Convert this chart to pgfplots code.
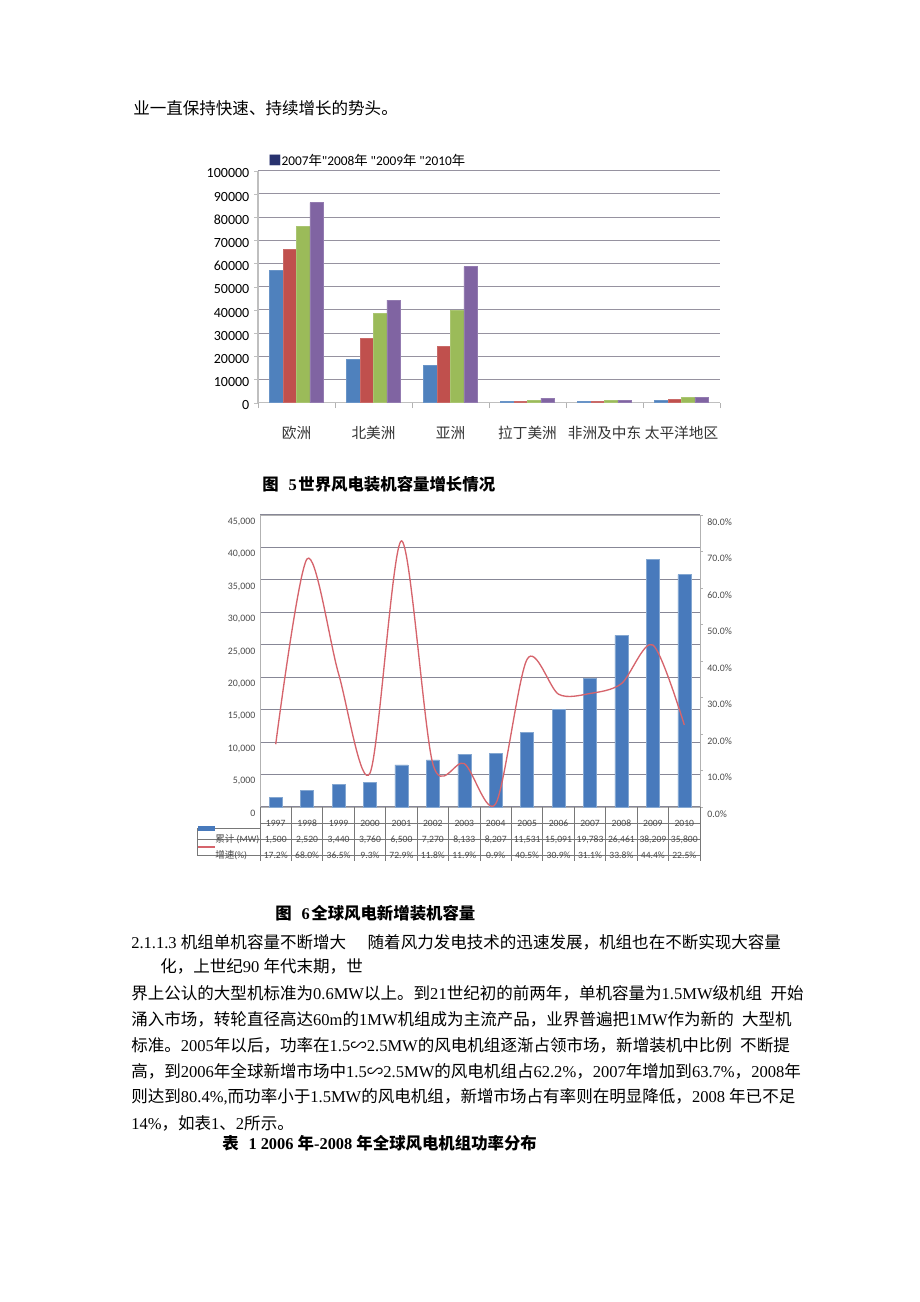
\documentclass[border=0pt]{standalone}
\usepackage{fontspec}
\usepackage{pgfplots}
\usepackage{pgfplotstable}
\pgfplotsset{compat=1.18}
\setmainfont{Liberation Serif}
\newfontfamily\cjkfamily{Noto Sans CJK SC}
\newfontfamily\latinfamily{Liberation Serif}
\newfontfamily\chartfont{Carlito}

\newXeTeXintercharclass\cjkclass
\newcount\cc
\cc="3000 \loop\XeTeXcharclass\cc=\cjkclass\ifnum\cc<"303F \advance\cc by 1 \repeat
\cc="4E00 \loop\XeTeXcharclass\cc=\cjkclass\ifnum\cc<"9FFF \advance\cc by 1 \repeat
\cc="FF00 \loop\XeTeXcharclass\cc=\cjkclass\ifnum\cc<"FFEF \advance\cc by 1 \repeat
\XeTeXcharclass"223D=\cjkclass
\XeTeXinterchartoks 0 \cjkclass={\cjkfamily}
\XeTeXinterchartoks 4095 \cjkclass={\cjkfamily}
\XeTeXinterchartoks \cjkclass 0={\latinfamily}
\XeTeXinterchartoks \cjkclass 4095={\latinfamily}
\newcommand\mix{\XeTeXinterchartokenstate=1 \latinfamily}

\definecolor{c1}{RGB}{79,129,189}
\definecolor{c2}{RGB}{192,80,77}
\definecolor{c3}{RGB}{155,187,89}
\definecolor{c4}{RGB}{128,100,162}
\definecolor{gridc}{RGB}{150,146,160}
\definecolor{gridb}{RGB}{135,135,150}
\definecolor{barb}{RGB}{72,122,188}
\definecolor{linec}{RGB}{214,100,108}
\definecolor{tablec}{RGB}{120,120,120}

\pgfplotstableread{
x y2007 y2008 y2009 y2010
0 57136 65946 76152 86279
1 18664 27606 38585 44189
2 16079 24439 39639 58641
3 541 662 1074 2008
4 534 593 865 1065
5 1153 1509 2184 2397
}\regiondata

\pgfplotstableread{
x cap rate
0 1500 17.2
1 2520 68.0
2 3440 36.5
3 3760 9.3
4 6500 72.9
5 7270 11.8
6 8133 11.9
7 8207 0.9
8 11531 40.5
9 15091 30.9
10 19783 31.1
11 26461 33.8
12 38209 44.4
13 35800 22.5
}\newdata

\begin{document}
\begin{tikzpicture}
\begin{scope}[x=0.75pt,y=-0.75pt]
\fill[white] (0,0) rectangle (920,1302);
\coordinate (tA) at (258,402.7);
\coordinate (bA) at (260,807);
\end{scope}

% ---------- Figure 5 ----------
\begin{axis}[
  at={(tA)}, anchor=south west,
  scale only axis, width=346.5pt, height=174pt,
  ybar=0pt, bar width=10.1pt,
  xmin=-0.5, xmax=5.5, ymin=0, ymax=100000,
  xtick={0,...,5},
  xticklabels={欧洲,北美洲,亚洲,拉丁美洲,非洲及中东,太平洋地区},
  x tick label style={font=\cjkfamily\fontsize{11}{13}\selectfont, text=black!80, yshift=-11pt},
  major x tick style={draw=none},
  minor xtick={-0.5,0.5,...,5.5},
  minor x tick style={draw=gray!60, line width=0.7pt},
  minor tick length=4pt,
  ytick={0,10000,...,100000},
  scaled y ticks=false,
  y tick label style={font=\chartfont\fontsize{10.5}{12}\selectfont, text=black, yshift=-2pt},
  yticklabel={\pgfmathprintnumber[fixed,precision=0,1000 sep={},assume math mode=true]{\tick}},
  ymajorgrids, grid style={draw=gridc, line width=0.8pt},
  axis x line*=bottom, axis y line*=left,
  axis line style={draw=gray!50, line width=0.8pt, -},
  tick align=outside, major tick length=3pt,
  y tick style={draw=gray!50},
  clip=false,
]
\addplot[fill=c1, draw=c1!85!white] table[x=x,y=y2007]{\regiondata};
\addplot[fill=c2, draw=c2!85!white] table[x=x,y=y2008]{\regiondata};
\addplot[fill=c3, draw=c3!85!white] table[x=x,y=y2009]{\regiondata};
\addplot[fill=c4, draw=c4!85!white] table[x=x,y=y2010]{\regiondata};
\end{axis}

% ---------- Figure 6 bars ----------
\begin{axis}[
  at={(bA)}, anchor=south west,
  scale only axis, width=330pt, height=219pt,
  xmin=-0.5, xmax=13.5, ymin=0, ymax=45000,
  xtick=\empty,
  ytick={0,5000,...,45000},
  scaled y ticks=false,
  yticklabel={\pgfmathprintnumber[fixed,precision=0,1000 sep={,},assume math mode=true]{\tick}},
  y tick label style={font=\chartfont\fontsize{7.4}{8}\selectfont, text=black!70, yshift=-5pt},
  ymajorgrids, grid style={draw=gridb, line width=0.8pt},
  axis line style={draw=gray!60, line width=0.7pt},
  major tick length=0pt,
  ybar, bar width=9.75pt,
]
\addplot[fill=barb, draw=c1!70!white] table[x=x,y=cap]{\newdata};
\end{axis}

% ---------- Figure 6 growth line ----------
\begin{axis}[
  at={(bA)}, anchor=south west,
  scale only axis, width=330pt, height=219pt,
  xmin=-0.5, xmax=13.5, ymin=0, ymax=80,
  axis x line=none, axis y line*=right,
  ytick={0,10,...,80},
  yticklabel={\pgfmathprintnumber[fixed,fixed zerofill,precision=1,assume math mode=true]{\tick}\%},
  y tick label style={font=\chartfont\fontsize{7.4}{8}\selectfont, text=black!70, yshift=-5pt},
  axis line style={draw=gray!60, line width=0.7pt, -},
  tick align=outside, major tick length=2pt,
  y tick style={draw=gray!60},
]
\addplot[smooth, draw=linec, line width=1pt] table[x=x,y=rate]{\newdata};
\end{axis}

\begin{scope}[x=0.75pt,y=-0.75pt]
% data table under figure 6
\foreach \k in {0,...,14} \draw[tablec, line width=0.6pt] ({260+\k*31.4286},807) -- ({260+\k*31.4286},861);
\draw[tablec, line width=0.6pt] (260,823) -- (700,823);
\draw[tablec, line width=0.6pt] (197,828) -- (260,828);
\draw[tablec, line width=0.6pt] (197,839) -- (700,839);
\draw[tablec, line width=0.6pt] (197,855) -- (700,855);
\draw[tablec, line width=0.6pt] (197,828) -- (197,855);
\fill[barb] (198,826) rectangle (215,831);
\draw[linec, line width=0.8pt] (198,847) -- (215,847);
\node[anchor=base west, inner sep=0, font=\chartfont\fontsize{7.2}{8}\selectfont, text=black!70] at (215,842) {{\cjkfamily 累计}\ (MW)};
\node[anchor=base west, inner sep=0, font=\chartfont\fontsize{7.2}{8}\selectfont, text=black!70] at (215,858) {{\cjkfamily 增速}(\%)};
\foreach \k/\yr/\cp/\rt in {0/1997/{1,500}/17.2,1/1998/{2,520}/68.0,2/1999/{3,440}/36.5,3/2000/{3,760}/9.3,4/2001/{6,500}/72.9,5/2002/{7,270}/11.8,6/2003/{8,133}/11.9,7/2004/{8,207}/0.9,8/2005/{11,531}/40.5,9/2006/{15,091}/30.9,10/2007/{19,783}/31.1,11/2008/{26,461}/33.8,12/2009/{38,209}/44.4,13/2010/{35,800}/22.5}{
  \node[anchor=base, inner sep=0, font=\chartfont\fontsize{7.2}{8}\selectfont, text=black!70] at ({260+(\k+0.5)*31.4286},826.5) {\yr};
  \node[anchor=base, inner sep=0, font=\chartfont\fontsize{7.2}{8}\selectfont, text=black!70] at ({260+(\k+0.5)*31.4286},842.5) {\cp};
  \node[anchor=base, inner sep=0, font=\chartfont\fontsize{7.2}{8}\selectfont, text=black!70] at ({260+(\k+0.5)*31.4286},858.5) {\rt\%};
}

% legend of figure 5
\node[anchor=west, inner sep=0, font=\chartfont\fontsize{10}{12}\selectfont] at (268,160)
  {{\cjkfamily\color[RGB]{40,50,110}■}2007{\cjkfamily 年}"2008{\cjkfamily 年}\ "2009{\cjkfamily 年}\ "2010{\cjkfamily 年}};

% page text
\begin{scope}[every node/.style={anchor=west, inner sep=0, font=\fontsize{12.4}{14}\selectfont}]
\node at (133,108) {\mix 业一直保持快速、持续增长的势头。};
\node[font=\fontsize{12.3}{14}\selectfont\bfseries] at (262,484) {\mix 图\hspace{0.6em}5\hspace{0.1em}世界风电装机容量增长情况};
\node[font=\fontsize{12.3}{14}\selectfont\bfseries] at (275,913) {\mix 图\hspace{0.6em}6\hspace{0.1em}全球风电新增装机容量};
\node at (131,942) {\mix 2.1.1.3 机组单机容量不断增大\hspace{1.3em}随着风力发电技术的迅速发展，机组也在不断实现大容量};
\node at (160,966) {\mix 化，上世纪90 年代末期，世};
\node at (131,993) {\mix 界上公认的大型机标准为0.6MW以上。到21世纪初的前两年，单机容量为1.5MW级机组\hspace{0.5em}开始};
\node at (131,1019) {\mix 涌入市场，转轮直径高达60m的1MW机组成为主流产品，业界普遍把1MW作为新的\hspace{0.5em}大型机};
\node at (131,1045) {\mix 标准。2005年以后，功率在1.5∽2.5MW的风电机组逐渐占领市场，新增装机中比例\hspace{0.5em}不断提};
\node at (131,1071) {\mix 高，到2006年全球新增市场中1.5∽2.5MW的风电机组占62.2\%，2007年增加到63.7\%，2008年};
\node at (131,1097) {\mix 则达到80.4\%,而功率小于1.5MW的风电机组，新增市场占有率则在明显降低，2008 年已不足};
\node at (131,1123) {\mix 14\%，如表1、2所示。};
\node[font=\fontsize{12.3}{14}\selectfont\bfseries] at (222,1143) {\mix 表\hspace{0.6em}1 2006 年-2008 年全球风电机组功率分布};
\end{scope}
\end{scope}
\end{tikzpicture}
\end{document}
